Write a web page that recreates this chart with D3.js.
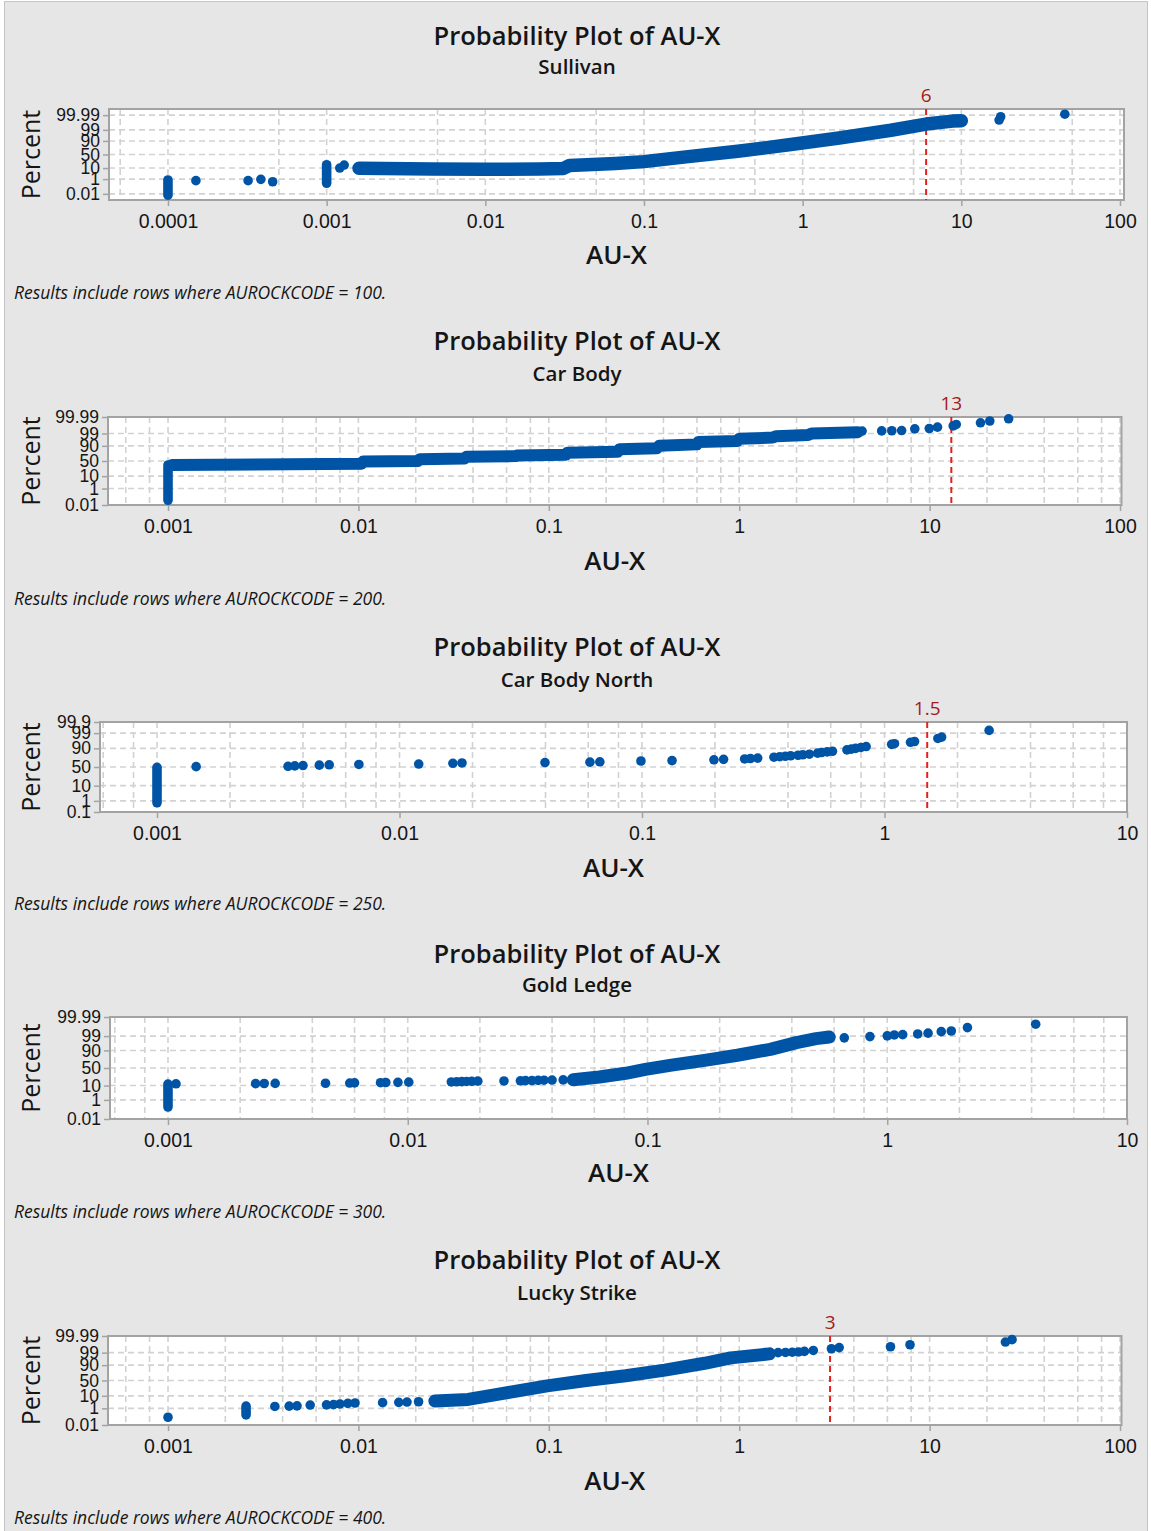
<!DOCTYPE html>
<html>
<head>
<meta charset="utf-8">
<script src="https://cdn.jsdelivr.net/npm/d3@7"></script>
<style>
  body { margin: 0; background: #fff; }
  svg { display: block; font-family: "Open Sans", "Noto Sans", sans-serif; }
</style>
</head>
<body>
<svg id="chart" width="1151" height="1531"></svg>
<script>
// ---- data ----
const subtitles = ["Sullivan", "Car Body", "Car Body North", "Gold Ledge", "Lucky Strike"];
const rockCodes = [100, 200, 250, 300, 400];
const refLines = [6, 13, 1.5, null, 3];
const refLabels = ["6", "13", "1.5", null, "3"];

const pctTicksA = [0.01, 1, 10, 50, 90, 99, 99.99];
const pctTicksB = [0.1, 1, 10, 50, 90, 99, 99.9];
const xTicks1 = [0.0001, 0.001, 0.01, 0.1, 1, 10, 100];
const xTicks2 = [0.001, 0.01, 0.1, 1, 10, 100];
const xTicks3 = [0.001, 0.01, 0.1, 1, 10];
const xLabels = {0.0001: "0.0001", 0.001: "0.001", 0.01: "0.01", 0.1: "0.1", 1: "1", 10: "10", 100: "100"};
const minorGrid1 = [0.00005, 0.0005, 0.005, 0.05, 0.5, 5, 50];
const minorGrid2 = [0.0006, 0.0008, 0.002, 0.004, 0.006, 0.008, 0.02, 0.04, 0.06, 0.08,
                    0.2, 0.4, 0.6, 0.8, 2, 4, 6, 8, 20, 40, 60, 80];
const minorGrid3 = [0.0006, 0.0008, 0.002, 0.004, 0.006, 0.008, 0.02, 0.04, 0.06, 0.08,
                    0.2, 0.4, 0.6, 0.8, 2, 4, 6, 8];

// [value, percent low, percent high] : tied values stacked at one x
// [value, percent] : single points, and dense runs drawn as a band
const sullivanStacks = [[0.0001, 0.006, 0.8], [0.001, 0.33, 16.8]];
const sullivanBand = [[0.0016, 9.7], [0.0046, 8.5], [0.0097, 8.1], [0.022, 8.5], [0.031, 9.3], [0.034, 15],
  [0.066, 20], [0.10, 25], [0.19, 42], [0.39, 62], [0.82, 82], [1.7, 94], [3.6, 98.9], [6, 99.8],
  [8.8, 99.92], [10, 99.93]];
const sullivanPoints = [[0.00015, 0.67], [0.00032, 0.67], [0.000385, 0.94], [0.000457, 0.5],
  [0.00121, 10], [0.00129, 16], [17.3, 99.944], [17.7, 99.982], [44.9, 99.993]];

const carBodyStacks = [[0.001, 0.045, 37]];
const carBodyBand = [[0.00105, 37], [0.0104, 41], [0.0106, 48], [0.0205, 50], [0.021, 56], [0.036, 58],
  [0.037, 64], [0.067, 66], [0.068, 68], [0.123, 70], [0.125, 76], [0.23, 78], [0.235, 84], [0.37, 86],
  [0.38, 90], [0.6, 92], [0.61, 94.5], [0.98, 95.5], [1.0, 97], [1.5, 97.6], [1.56, 98.2], [2.3, 98.6],
  [2.4, 99.0], [4.2, 99.25]];
const carBodyPoints = [[4.42, 99.43], [5.6, 99.45], [6.33, 99.47], [7.13, 99.5], [8.36, 99.67],
  [9.96, 99.7], [11.0, 99.79], [13.3, 99.85], [13.8, 99.9], [18.5, 99.938], [20.7, 99.964], [26, 99.982]];

const northStacks = [[0.001, 0.7, 49]];
const northBand = [];
const northPoints = [[0.00145, 51], [0.00347, 52], [0.0037, 53], [0.0040, 54], [0.00467, 55],
  [0.00513, 56], [0.0068, 57], [0.012, 58], [0.0166, 60], [0.0181, 61], [0.0398, 62], [0.061, 63],
  [0.067, 64], [0.099, 66], [0.133, 67], [0.198, 69], [0.217, 70], [0.265, 71], [0.28, 72], [0.30, 73],
  [0.35, 75], [0.37, 76], [0.39, 77], [0.41, 78], [0.44, 79], [0.46, 80], [0.49, 81], [0.53, 83],
  [0.55, 84], [0.58, 85], [0.61, 86], [0.70, 88], [0.73, 89], [0.76, 90], [0.80, 91], [0.84, 92],
  [1.07, 94], [1.10, 94.5], [1.28, 95.5], [1.33, 96], [1.66, 97.5], [1.72, 98], [2.7, 99.4]];

const goldStacks = [[0.001, 0.22, 12]];
const goldBand = [[0.049, 19.6], [0.063, 25.5], [0.081, 35], [0.098, 46], [0.126, 58.5], [0.173, 71.2],
  [0.237, 82.4], [0.325, 91.3], [0.418, 96.8], [0.505, 98.38], [0.573, 98.8]];
const goldPoints = [[0.00108, 12.5], [0.00232, 12.7], [0.00252, 12.9], [0.0028, 13.1], [0.00454, 13.3],
  [0.00573, 13.6], [0.006, 13.9], [0.0077, 14.2], [0.0081, 14.5], [0.0091, 14.8], [0.0101, 15.1],
  [0.0152, 15.4], [0.016, 15.7], [0.0168, 16], [0.0176, 16.3], [0.0185, 16.6], [0.0196, 16.9],
  [0.0252, 17.2], [0.0295, 17.5], [0.031, 17.8], [0.033, 18.1], [0.035, 18.4], [0.037, 18.7],
  [0.04, 19], [0.0445, 19.3], [0.662, 98.6], [0.847, 98.9], [1.0, 99.05], [1.07, 99.2], [1.16, 99.25],
  [1.34, 99.35], [1.48, 99.45], [1.68, 99.6], [1.85, 99.65], [2.16, 99.84], [4.16, 99.93]];

const luckyStacks = [[0.00257, 0.2, 1.6]];
const luckyBand = [[0.0252, 4.3], [0.0377, 5.7], [0.0607, 15.6], [0.098, 32.6], [0.157, 50],
  [0.253, 65.5], [0.407, 80.8], [0.657, 92.5], [0.902, 97.06], [1.44, 98.7]];
const luckyPoints = [[0.001, 0.107], [0.00364, 1.5], [0.00433, 1.6], [0.00476, 1.7], [0.00558, 2.0],
  [0.0068, 2.1], [0.0074, 2.2], [0.008, 2.5], [0.0088, 2.8], [0.0096, 3.0], [0.0134, 3.2], [0.0163, 3.4],
  [0.018, 3.6], [0.0207, 3.8], [1.6, 99.0], [1.75, 99.05], [1.9, 99.1], [2.05, 99.15], [2.2, 99.25],
  [2.45, 99.4], [3.05, 99.6], [3.35, 99.7], [6.23, 99.76], [7.89, 99.86], [25, 99.934], [27.1, 99.968]];

// ---- layout ----
const panels = [
  {stacks: sullivanStacks, band: sullivanBand, points: sullivanPoints, bandW: 13.5,
   box: [109, 109, 1124, 200], xDom: [4.25e-5, 106], zDom: [-4.3, 4.3],
   xTicks: xTicks1, minor: minorGrid1, pct: pctTicksA, titleY: 35, subY: 66, axY: 254, footY: 292},
  {stacks: carBodyStacks, band: carBodyBand, points: carBodyPoints, bandW: 12,
   box: [108, 417, 1121.5, 505], xDom: [4.84e-4, 101.8], zDom: [-3.719, 3.719],
   xTicks: xTicks2, minor: minorGrid2, pct: pctTicksA, titleY: 340, subY: 373, axY: 560, footY: 598},
  {stacks: northStacks, band: northBand, points: northPoints, bandW: 10,
   box: [100, 722, 1127, 812], xDom: [5.82e-4, 10], zDom: [-3.09, 3.09],
   xTicks: xTicks3, minor: minorGrid3, pct: pctTicksB, titleY: 646, subY: 679, axY: 867, footY: 903},
  {stacks: goldStacks, band: goldBand, points: goldPoints, bandW: 13,
   box: [110, 1017, 1127, 1119], xDom: [5.73e-4, 10], zDom: [-3.719, 3.719],
   xTicks: xTicks3, minor: minorGrid3, pct: pctTicksA, titleY: 953, subY: 984, axY: 1172, footY: 1211},
  {stacks: luckyStacks, band: luckyBand, points: luckyPoints, bandW: 13,
   box: [108, 1336, 1121.5, 1425], xDom: [4.84e-4, 101.8], zDom: [-3.719, 3.719],
   xTicks: xTicks2, minor: minorGrid2, pct: pctTicksA, titleY: 1259, subY: 1292, axY: 1480, footY: 1517}
];

const blue = "#0054a6";
const gridCol = "#d2d2d2";
const frameCol = "#a3a3a3";
const ink = "#151515";

// inverse standard normal (Acklam) for the probability axis
function qnorm(p) {
  const a = [-3.969683028665376e+01, 2.209460984245205e+02, -2.759285104469687e+02, 1.383577518672690e+02, -3.066479806614716e+01, 2.506628277459239e+00];
  const b = [-5.447609879822406e+01, 1.615858368580409e+02, -1.556989798598866e+02, 6.680131188771972e+01, -1.328068155288572e+01];
  const c = [-7.784894002430293e-03, -3.223964580411365e-01, -2.400758277161838e+00, -2.549671010115819e+00, 4.374664141464968e+00, 2.938163982698783e+00];
  const d = [7.784695709041462e-03, 3.224671290700398e-01, 2.445134137142996e+00, 3.754408661907416e+00];
  const pl = 0.02425;
  if (p < pl) {
    const q = Math.sqrt(-2 * Math.log(p));
    return (((((c[0]*q+c[1])*q+c[2])*q+c[3])*q+c[4])*q+c[5]) / ((((d[0]*q+d[1])*q+d[2])*q+d[3])*q+1);
  }
  if (p > 1 - pl) {
    const q = Math.sqrt(-2 * Math.log(1 - p));
    return -(((((c[0]*q+c[1])*q+c[2])*q+c[3])*q+c[4])*q+c[5]) / ((((d[0]*q+d[1])*q+d[2])*q+d[3])*q+1);
  }
  const q = p - 0.5, r = q * q;
  return (((((a[0]*r+a[1])*r+a[2])*r+a[3])*r+a[4])*r+a[5])*q / (((((b[0]*r+b[1])*r+b[2])*r+b[3])*r+b[4])*r+1);
}

let svg = d3.select("#chart");

svg.append("rect")
  .attr("x", 4.5).attr("y", 1.5).attr("width", 1143).attr("height", 1535)
  .attr("fill", "#e6e6e6").attr("stroke", "#c4c4c4");

panels.forEach((p, i) => {
  const [l, t, r, b] = p.box;
  let x = d3.scaleLog().domain(p.xDom).range([l, r]);
  let z = d3.scaleLinear().domain(p.zDom).range([b, t]);
  let y = (pct) => z(qnorm(pct / 100));

  let g = svg.append("g");

  g.append("text").attr("x", 577).attr("y", p.titleY)
    .attr("text-anchor", "middle").attr("dominant-baseline", "central")
    .style("font-size", "25.5px").style("font-weight", 600).attr("fill", ink)
    .text("Probability Plot of AU-X");
  g.append("text").attr("x", 577).attr("y", p.subY)
    .attr("text-anchor", "middle").attr("dominant-baseline", "central")
    .style("font-size", "20.5px").style("font-weight", 600).attr("fill", ink)
    .text(subtitles[i]);

  // plot area
  g.append("rect").attr("x", l).attr("y", t).attr("width", r - l).attr("height", b - t)
    .attr("fill", "#fff");

  // grid
  g.selectAll(".vgrid").data(p.minor.concat(p.xTicks)).enter()
    .append("line")
    .attr("x1", d => x(d)).attr("x2", d => x(d)).attr("y1", t).attr("y2", b)
    .attr("stroke", gridCol).attr("stroke-width", 1.6).attr("stroke-dasharray", "6,4");
  g.selectAll(".hgrid").data(p.pct).enter()
    .append("line")
    .attr("x1", l).attr("x2", r).attr("y1", d => y(d)).attr("y2", d => y(d))
    .attr("stroke", gridCol).attr("stroke-width", 1.6).attr("stroke-dasharray", "6,4");

  // axes
  let xAxis = d3.axisBottom(x).tickValues(p.xTicks).tickFormat(d => xLabels[d])
    .tickSize(6).tickPadding(8);
  let gx = g.append("g").attr("transform", `translate(0,${b})`).call(xAxis);
  gx.select(".domain").remove();
  gx.selectAll("line").attr("stroke", frameCol).attr("stroke-width", 1.5);
  gx.selectAll("text").style("font-size", "19.5px").style("font-weight", 500)
    .attr("fill", ink).style("font-family", null);

  let yAxis = d3.axisLeft(z).tickValues(p.pct.map(d => qnorm(d / 100)))
    .tickFormat((d, k) => String(p.pct[k])).tickSize(6).tickPadding(3);
  let gy = g.append("g").attr("transform", `translate(${l},0)`).call(yAxis);
  gy.select(".domain").remove();
  gy.selectAll("line").attr("stroke", frameCol).attr("stroke-width", 1.5);
  gy.selectAll("text").style("font-size", "17.5px").style("font-weight", 500)
    .attr("fill", ink).style("font-family", null);

  g.append("rect").attr("x", l).attr("y", t).attr("width", r - l).attr("height", b - t)
    .attr("fill", "none").attr("stroke", frameCol).attr("stroke-width", 2);

  // reference line
  if (refLines[i] != null) {
    g.append("line")
      .attr("x1", x(refLines[i])).attr("x2", x(refLines[i])).attr("y1", t).attr("y2", b)
      .attr("stroke", "#e3211c").attr("stroke-width", 2).attr("stroke-dasharray", "6,4");
    g.append("text").attr("x", x(refLines[i])).attr("y", t - 14)
      .attr("text-anchor", "middle").attr("dominant-baseline", "central")
      .style("font-size", "19px").style("font-weight", 500).attr("fill", "#a31a1a")
      .text(refLabels[i]);
  }

  // data marks
  g.selectAll(".stack").data(p.stacks).enter()
    .append("line")
    .attr("x1", d => x(d[0])).attr("x2", d => x(d[0]))
    .attr("y1", d => y(d[1])).attr("y2", d => y(d[2]))
    .attr("stroke", blue).attr("stroke-width", 9.6).attr("stroke-linecap", "round");

  if (p.band.length) {
    let line = d3.line().x(d => x(d[0])).y(d => y(d[1]));
    g.append("path").datum(p.band).attr("d", line)
      .attr("fill", "none").attr("stroke", blue).attr("stroke-width", p.bandW)
      .attr("stroke-linejoin", "round").attr("stroke-linecap", "round");
  }

  g.selectAll(".pt").data(p.points).enter()
    .append("circle")
    .attr("cx", d => x(d[0])).attr("cy", d => y(d[1])).attr("r", 4.8)
    .attr("fill", blue);

  // titles
  g.append("text")
    .attr("transform", `translate(30,${(t + b) / 2}) rotate(-90)`)
    .attr("text-anchor", "middle").attr("dominant-baseline", "central")
    .style("font-size", "25px").style("font-weight", 500).attr("fill", ink).text("Percent");
  g.append("text").attr("x", (l + r) / 2).attr("y", p.axY)
    .attr("text-anchor", "middle").attr("dominant-baseline", "central")
    .style("font-size", "26px").style("font-weight", 600).attr("fill", ink).text("AU-X");
  g.append("text").attr("x", 14).attr("y", p.footY)
    .attr("dominant-baseline", "central")
    .style("font-size", "17.5px").style("font-style", "italic").attr("fill", ink)
    .text(`Results include rows where AUROCKCODE = ${rockCodes[i]}.`);
});
</script>
</body>
</html>
